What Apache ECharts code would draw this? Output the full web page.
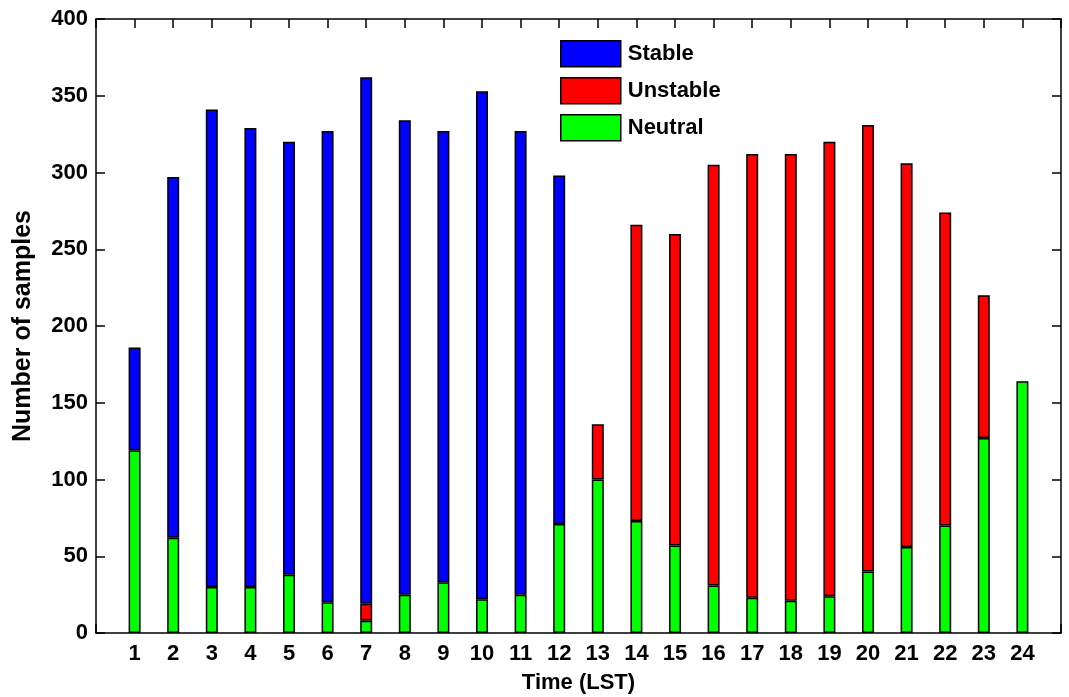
<!DOCTYPE html>
<html>
<head>
<meta charset="utf-8">
<script src="https://cdn.jsdelivr.net/npm/echarts@6/dist/echarts.min.js"></script>
<style>
  html, body { margin: 0; padding: 0; background: #fff; }
  #chart { width: 1069px; height: 697px; }
</style>
</head>
<body>
<div id="chart"></div>
<script>
// Hour of day (LST)
const hours = [1,2,3,4,5,6,7,8,9,10,11,12,13,14,15,16,17,18,19,20,21,22,23,24];
// Sample counts per stability class, stacked Neutral -> Unstable -> Stable
const neutral  = [119,62,30,30,38,20,8,25,33,22,25,71,100,73,57,31,23,21,24,40,56,70,127,164];
const unstable = [null,null,null,null,null,null,11,null,null,null,null,null,36,193,203,274,289,291,296,291,250,204,93,null];
const stable   = [67,235,311,299,282,307,343,309,294,331,302,227,null,null,null,null,null,null,null,null,null,null,null,null];
const yTicks = [0,50,100,150,200,250,300,350,400];

const font = 'Liberation Sans, Arial, sans-serif';
// rows are [count, hour] so the count column is the stacked one
const rows = arr => hours.map((h, i) => [arr[i], h]);

const chart = echarts.init(document.getElementById('chart'), null, { renderer: 'canvas' });

const axisLine = { show: true, onZero: false, lineStyle: { color: '#000', width: 1.5 } };
const axisTick = { show: true, inside: true, length: 9, lineStyle: { color: '#000', width: 1.5 } };

const barStyle = color => ({ color: color, borderColor: '#000', borderWidth: 1.5 });
const barSeries = (name, arr, color) => ({
  name: name, type: 'bar', stack: 'n', barWidth: 12,
  encode: { x: 1, y: 0 },
  data: rows(arr), itemStyle: barStyle(color)
});

chart.setOption({
  animation: false,
  backgroundColor: '#fff',
  grid: { left: 96, right: 8, top: 19, bottom: 64, containLabel: false, outerBoundsMode: 'none' },
  legend: {
    orient: 'vertical',
    left: 560,
    top: 40,
    padding: 0,
    itemWidth: 60,
    itemHeight: 26,
    itemGap: 9.5,
    icon: 'rect',
    data: ['Stable', 'Unstable', 'Neutral'],
    textStyle: { fontFamily: font, fontWeight: 'bold', fontSize: 22, color: '#000', padding: [0, 0, 0, 2] },
    itemStyle: { borderColor: '#000', borderWidth: 1.5 }
  },
  xAxis: [
    {
      type: 'value', min: 0, max: 25, interval: 1, position: 'bottom',
      name: 'Time (LST)', nameLocation: 'middle', nameGap: 39,
      nameTextStyle: { fontFamily: font, fontWeight: 'bold', fontSize: 22, color: '#000' },
      axisLine: axisLine, axisTick: axisTick, splitLine: { show: false },
      axisLabel: {
        fontFamily: font, fontWeight: 'bold', fontSize: 22, color: '#000', margin: 10,
        formatter: v => (hours.indexOf(v) >= 0 ? String(v) : '')
      }
    },
    {
      type: 'value', min: 0, max: 25, interval: 1, position: 'top',
      axisLine: axisLine, axisTick: axisTick, splitLine: { show: false },
      axisLabel: { show: false }
    }
  ],
  yAxis: [
    {
      type: 'value', min: yTicks[0], max: yTicks[yTicks.length - 1], interval: 50, position: 'left',
      name: 'Number of samples', nameLocation: 'middle', nameGap: 60, nameRotate: 90,
      nameTextStyle: { fontFamily: font, fontWeight: 'bold', fontSize: 25, color: '#000' },
      axisLine: axisLine, axisTick: axisTick, splitLine: { show: false },
      axisLabel: { fontFamily: font, fontWeight: 'bold', fontSize: 22, color: '#000', margin: 8 }
    },
    {
      type: 'value', min: yTicks[0], max: yTicks[yTicks.length - 1], interval: 50, position: 'right',
      axisLine: axisLine, axisTick: axisTick, splitLine: { show: false },
      axisLabel: { show: false }
    }
  ],
  series: [
    barSeries('Neutral', neutral, '#00ff00'),
    barSeries('Unstable', unstable, '#ff0000'),
    barSeries('Stable', stable, '#0000ff')
  ]
});
</script>
</body>
</html>
